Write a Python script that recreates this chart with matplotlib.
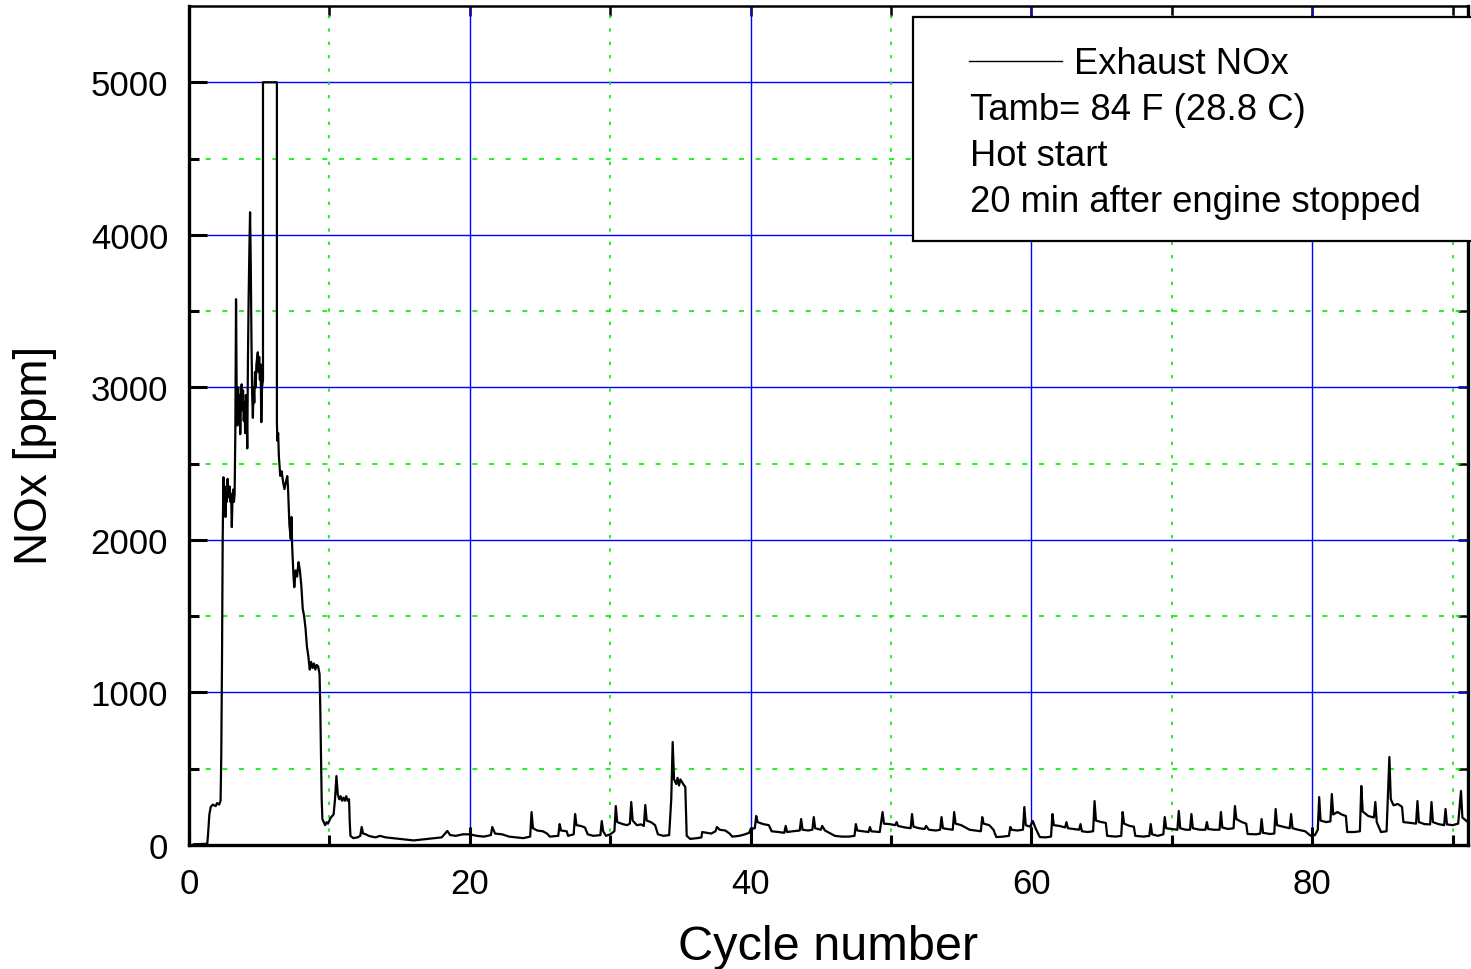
import matplotlib
matplotlib.use("Agg")
import matplotlib.pyplot as plt
from matplotlib.patches import Rectangle
from matplotlib.lines import Line2D
import numpy as np

plt.rcParams['font.family'] = ['Liberation Sans', 'DejaVu Sans']

# ---- data ----
cycle = [
    0.35, 1.30, 1.35, 1.45, 1.55, 1.70, 1.90, 2.00, 2.15, 2.25,
    2.30, 2.35, 2.40, 2.45, 2.50, 2.55, 2.60, 2.65, 2.70, 2.75,
    2.80, 2.90, 2.95, 3.00, 3.05, 3.10, 3.15, 3.20, 3.25,
    3.30, 3.35, 3.40, 3.45, 3.50, 3.55, 3.60, 3.65, 3.70, 3.75,
    3.80, 3.85, 3.90, 3.95, 4.00, 4.05, 4.10, 4.15, 4.20, 4.25,
    4.30, 4.35, 4.40, 4.45, 4.50, 4.55, 4.60, 4.65, 4.70, 4.75,
    4.80, 4.90, 4.95, 5.00, 5.05, 5.10, 5.15, 5.20, 5.27, 5.27,
    6.26, 6.26, 6.30, 6.35, 6.40, 6.45, 6.50, 6.60, 6.70, 6.80,
    6.90, 7.00, 7.05, 7.15, 7.25, 7.30, 7.35, 7.45, 7.50, 7.60,
    7.70, 7.80, 7.90, 8.00, 8.10, 8.20, 8.30, 8.40, 8.50, 8.60,
    8.70, 8.80, 8.90, 9.00, 9.10, 9.20, 9.30, 9.35, 9.40, 9.45,
    9.50, 9.60, 9.70, 9.80, 9.90, 10.00, 10.10, 10.30, 10.40, 10.50,
    10.60, 10.70, 10.80, 10.90, 11.00, 11.10, 11.20, 11.30, 11.40, 11.45,
    11.50, 11.70, 12.00, 12.20, 12.30, 12.40, 12.60, 12.80, 13.00, 13.30,
    13.60, 14.00, 14.50, 15.00, 15.50, 16.00, 16.50, 17.00, 17.50, 18.00,
    18.40, 18.60, 19.00, 19.50, 20.00, 20.50, 21.00, 21.50, 21.60, 21.80,
    22.30, 22.80, 23.30, 23.80, 24.30, 24.40, 24.50, 24.80, 25.20, 25.50,
    25.70, 26.30, 26.40, 26.50, 26.90, 27.00, 27.40, 27.50, 27.60, 27.90,
    28.20, 28.40, 28.80, 29.30, 29.40, 29.50, 29.70, 30.00, 30.30, 30.40,
    30.50, 30.90, 31.20, 31.40, 31.50, 31.60, 31.90, 32.20, 32.40, 32.50,
    32.60, 32.90, 33.20, 33.40, 33.80, 34.20, 34.35, 34.45, 34.55, 34.70,
    34.80, 34.90, 35.00, 35.20, 35.35, 35.45, 35.70, 36.20, 36.50, 36.55,
    36.90, 37.20, 37.50, 37.60, 37.80, 38.20, 38.50, 38.70, 39.20, 39.60,
    39.90, 40.00, 40.30, 40.40, 40.50, 40.90, 41.30, 41.50, 42.00, 42.40,
    42.50, 42.60, 43.00, 43.50, 43.60, 43.70, 44.10, 44.40, 44.50, 44.60,
    45.00, 45.10, 45.30, 45.60, 46.00, 46.50, 47.00, 47.40, 47.50, 47.60,
    48.00, 48.40, 48.50, 48.60, 49.20, 49.40, 49.50, 49.90, 50.30, 50.40,
    50.50, 51.00, 51.40, 51.50, 51.60, 52.00, 52.40, 52.50, 52.70, 53.20,
    53.50, 53.60, 53.70, 54.00, 54.40, 54.50, 54.60, 55.00, 55.40, 55.60,
    56.00, 56.40, 56.50, 56.60, 57.00, 57.30, 57.50, 58.00, 58.40, 58.50,
    58.60, 59.00, 59.40, 59.50, 59.60, 59.90, 60.10, 60.30, 60.60, 61.00,
    61.40, 61.50, 61.60, 62.00, 62.40, 62.50, 62.60, 63.00, 63.40, 63.50,
    63.60, 64.00, 64.40, 64.50, 64.60, 65.00, 65.30, 65.40, 66.00, 66.40,
    66.50, 66.60, 67.00, 67.30, 67.40, 68.00, 68.40, 68.50, 68.60, 69.00,
    69.40, 69.50, 69.60, 70.00, 70.40, 70.50, 70.60, 71.00, 71.30, 71.40,
    71.50, 72.00, 72.40, 72.50, 72.60, 73.00, 73.40, 73.50, 73.60, 74.00,
    74.40, 74.50, 74.60, 75.00, 75.30, 75.40, 76.00, 76.30, 76.40, 76.50,
    77.00, 77.30, 77.40, 77.50, 78.00, 78.40, 78.50, 78.60, 79.00, 79.50,
    79.90, 80.20, 80.40, 80.50, 80.60, 81.00, 81.30, 81.40, 81.50, 81.80,
    82.10, 82.40, 82.50, 83.00, 83.40, 83.50, 83.60, 84.00, 84.40, 84.50,
    84.60, 84.90, 85.30, 85.50, 85.60, 85.80, 86.10, 86.40, 86.50, 87.00,
    87.40, 87.50, 87.60, 88.00, 88.40, 88.50, 88.60, 89.00, 89.40, 89.50,
    89.60, 90.00, 90.40, 90.60, 90.70, 91.00,
]
nox = [
    5, 8, 60, 200, 250, 265, 255, 275, 265, 290,
    600, 1200, 2000, 2411, 2200, 2350, 2150, 2300, 2250, 2400,
    2280, 2350, 2250, 2300, 2084, 2280, 2330, 2250, 2300,
    2700, 3578, 2900, 2750, 3000, 2800, 2950, 2693, 2900, 3020,
    2850, 2980, 2780, 2900, 2700, 2950, 2880, 2600, 3200, 3600,
    3900, 4148, 3800, 3300, 2950, 2800, 3000, 2900, 3100, 3000,
    3150, 3230, 3100, 3200, 3050, 3150, 2772, 3000, 3050, 5000,
    5000, 2772, 2650, 2700, 2550, 2480, 2420, 2450, 2380, 2333,
    2380, 2418, 2350, 2100, 2005, 2150, 1950, 1750, 1690, 1800,
    1760, 1854, 1800, 1700, 1550, 1500, 1420, 1300, 1238, 1150,
    1200, 1160, 1190, 1150, 1180, 1170, 1120, 900, 600, 300,
    170, 150, 130, 150, 140, 160, 180, 200, 300, 452,
    330, 300, 320, 290, 310, 290, 320, 290, 300, 150,
    60, 45, 50, 60, 118, 75, 70, 60, 55, 50,
    60, 50, 45, 40, 35, 30, 35, 40, 45, 50,
    92, 65, 60, 70, 70, 60, 55, 65, 118, 75,
    70, 55, 50, 45, 55, 216, 110, 95, 90, 75,
    55, 60, 137, 95, 90, 60, 70, 203, 130, 125,
    115, 70, 60, 65, 157, 90, 60, 70, 90, 255,
    150, 137, 130, 140, 282, 160, 130, 135, 125, 262,
    160, 150, 130, 70, 60, 65, 300, 675, 430, 400,
    440, 390, 430, 400, 380, 60, 40, 45, 50, 85,
    80, 75, 90, 118, 100, 95, 75, 55, 60, 70,
    80, 105, 110, 190, 150, 137, 130, 90, 85, 80,
    125, 85, 90, 95, 170, 100, 95, 100, 183, 110,
    100, 125, 95, 80, 60, 55, 55, 60, 137, 95,
    90, 85, 118, 90, 85, 216, 140, 137, 130, 150,
    125, 115, 110, 203, 120, 110, 105, 125, 100, 95,
    100, 183, 110, 105, 100, 216, 140, 130, 110, 100,
    95, 90, 183, 140, 130, 100, 52, 55, 60, 118,
    100, 95, 100, 249, 130, 120, 157, 110, 52, 50,
    55, 203, 130, 125, 115, 150, 110, 105, 100, 137,
    90, 85, 90, 288, 160, 150, 145, 60, 55, 60,
    216, 140, 125, 120, 60, 55, 60, 137, 70, 60,
    70, 183, 110, 105, 100, 223, 110, 100, 100, 203,
    110, 100, 100, 150, 105, 100, 100, 216, 115, 105,
    110, 255, 170, 150, 140, 72, 70, 75, 170, 80,
    72, 75, 236, 130, 118, 110, 203, 110, 100, 90,
    60, 65, 100, 314, 160, 150, 155, 334, 200, 216,
    200, 190, 85, 85, 90, 387, 220, 190, 180, 282,
    150, 85, 90, 577, 300, 260, 269, 250, 150, 145,
    140, 288, 150, 137, 135, 282, 150, 137, 130, 236,
    135, 130, 140, 354, 180, 157,
]

x_major = [0, 20, 40, 60, 80]
x_minor = [10, 30, 50, 70, 90]
y_major = [0, 1000, 2000, 3000, 4000, 5000]
y_minor = [500, 1500, 2500, 3500, 4500]

legend_lines = ["Exhaust NOx", "Tamb= 84 F (28.8 C)", "Hot start",
                "20 min after engine stopped"]

W, H = 1471, 970
fig = plt.figure(figsize=(W / 100, H / 100), dpi=100)
ax = fig.add_axes([189 / W, 1 - 846 / H, (1468 - 189) / W, (846 - 7) / H])

ax.set_xlim(0, 91.1)
ax.set_ylim(0, 5500)

# grid lines
for xv in x_major[1:]:
    ax.axvline(xv, color='#0000ff', lw=1.0, zorder=1)
for yv in y_major[1:]:
    ax.axhline(yv, color='#0000ff', lw=1.0, zorder=1)
for xv in x_minor:
    ax.axvline(xv, color='#00ee00', lw=1.2, ls=(0, (2, 6)), zorder=1)
for yv in y_minor:
    ax.axhline(yv, color='#00ee00', lw=1.2, ls=(0, (3, 7)), zorder=1)

ax.plot(cycle, nox, color='black', lw=1.6, zorder=3)

ax.set_xticks(x_major)
ax.set_xticks(x_minor, minor=True)
ax.set_yticks(y_major)
ax.set_yticks(y_minor, minor=True)
ax.tick_params(which='major', direction='in', length=13, width=2.2,
               labelsize=25, pad=15)
ax.tick_params(which='minor', direction='in', length=7, width=2.2)
ax.tick_params(axis='x', which='major', pad=16)

for s in ['left', 'bottom', 'right']:
    ax.spines[s].set_linewidth(2.4)
ax.spines['top'].set_linewidth(1.8)

# top and right ticks (short, inward, no labels)
secx = ax.secondary_xaxis('top')
secx.set_xticks(x_major + x_minor)
secx.tick_params(direction='in', length=7, width=1.8, labeltop=False)
secx.spines['top'].set_visible(False)
secy = ax.secondary_yaxis('right')
secy.set_yticks(y_major + y_minor)
secy.tick_params(direction='in', length=7, width=1.8, labelright=False)
secy.spines['right'].set_visible(False)

ax.set_xlabel('Cycle number', fontsize=35, labelpad=17)
ax.set_ylabel('NOx [ppm]', fontsize=33)
ax.yaxis.set_label_coords((57 - 189) / (1468 - 189), (846 - 455) / (846 - 7))

# legend box
rect = Rectangle((913 / W, 1 - 242 / H), (1475 - 913) / W, (242 - 18) / H,
                 transform=fig.transFigure, facecolor='white',
                 edgecolor='black', lw=1.6, zorder=5)
fig.add_artist(rect)
fig.add_artist(Line2D([969 / W, 1062 / W], [1 - 62 / H, 1 - 62 / H],
                      transform=fig.transFigure, color='black', lw=1.0,
                      zorder=6))
ys = [65, 111, 157, 203]
xs = [1074, 970, 970, 970]
for t, xx, yy in zip(legend_lines, xs, ys):
    fig.text(xx / W, 1 - yy / H, t, fontsize=26.2, va='center', ha='left',
             zorder=7)

fig.savefig('out.png', dpi=100)
